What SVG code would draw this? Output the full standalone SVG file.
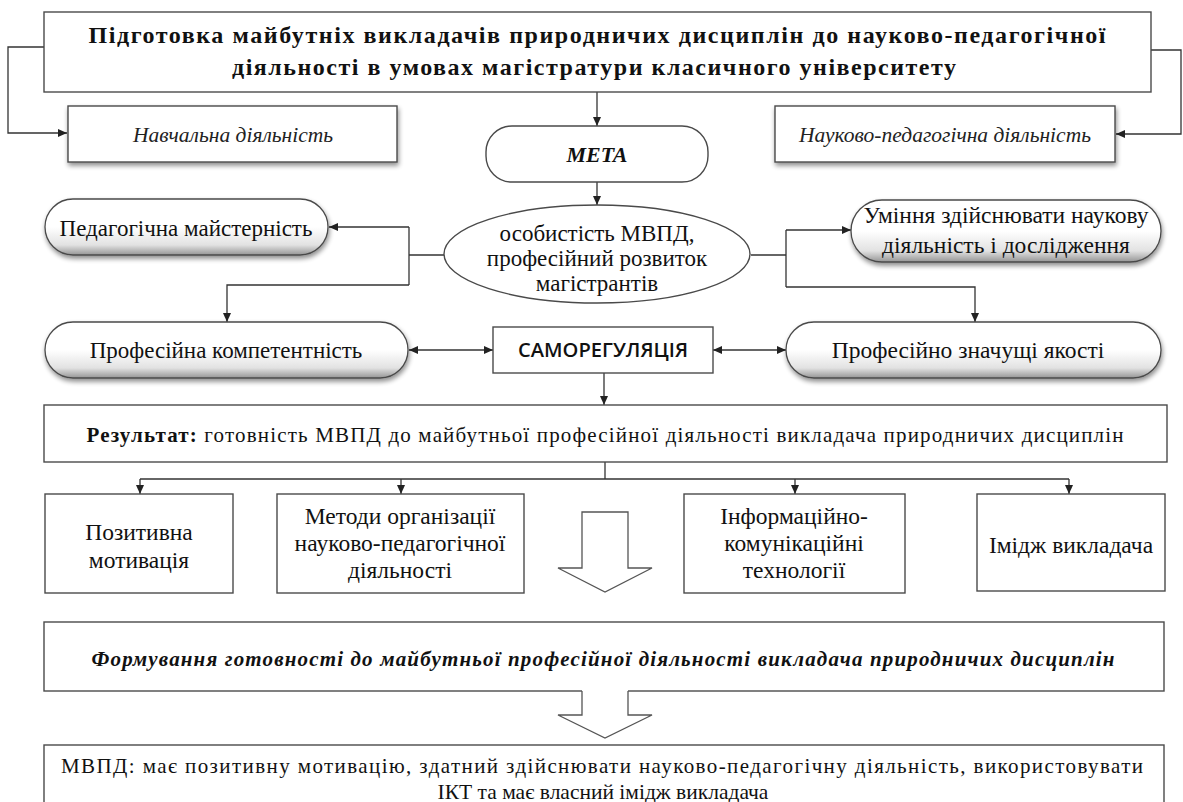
<svg xmlns="http://www.w3.org/2000/svg" width="1183" height="802" viewBox="0 0 1183 802">
<defs>
<style>
.box{fill:#fff;stroke:#4a4a4a;stroke-width:1.4}
.pill{fill:url(#pg);stroke:#4a4a4a;stroke-width:1.3}
.con{fill:none;stroke:#333;stroke-width:1.3}
text{font-family:"Liberation Serif","DejaVu Serif",serif;fill:#111;text-anchor:middle}
.tb{font-weight:bold}
.ti{font-style:italic;fill:#222}
.tbi{font-style:italic;font-weight:bold}
.ts{font-family:"Open Sans","Noto Sans","Liberation Sans",sans-serif;font-weight:600}
.blk{fill:#fff;stroke:#555;stroke-width:1.3}
</style>
<linearGradient id="pg" x1="0" y1="0" x2="0" y2="1">
<stop offset="0" stop-color="#ffffff"/>
<stop offset="0.5" stop-color="#ffffff"/>
<stop offset="0.82" stop-color="#e2e2e2"/>
<stop offset="1" stop-color="#959595"/>
</linearGradient>
<filter id="sh" x="-10%" y="-20%" width="125%" height="170%">
<feGaussianBlur in="SourceAlpha" stdDeviation="2.5"/>
<feOffset dx="1" dy="3" result="o"/>
<feComponentTransfer><feFuncA type="linear" slope="0.45"/></feComponentTransfer>
<feMerge><feMergeNode/><feMergeNode in="SourceGraphic"/></feMerge>
</filter>
<marker id="ar" markerUnits="userSpaceOnUse" markerWidth="9" markerHeight="8" refX="9" refY="4" orient="auto-start-reverse">
<path d="M0,0 L9,4 L0,8 z" fill="#222"/>
</marker>
</defs>
<rect width="1183" height="802" fill="#fff"/>

<g id="connectors">
<path class="con" d="M44,47 H8 V133 H67" marker-end="url(#ar)"/>
<path class="con" d="M1151,50 H1181 V134 H1116" marker-end="url(#ar)"/>
<path class="con" d="M597,92 V126" marker-end="url(#ar)"/>
<path class="con" d="M597,182 V205" marker-end="url(#ar)"/>
<path class="con" d="M444,255 H409"/>
<path class="con" d="M409,227 V285"/>
<path class="con" d="M409,227 H329" marker-end="url(#ar)"/>
<path class="con" d="M409,285 H227 V322" marker-end="url(#ar)"/>
<path class="con" d="M751,255 H786"/>
<path class="con" d="M786,230 V287"/>
<path class="con" d="M786,230 H851" marker-end="url(#ar)"/>
<path class="con" d="M786,287 H975 V322" marker-end="url(#ar)"/>
<path class="con" d="M409,350 H493" marker-start="url(#ar)" marker-end="url(#ar)"/>
<path class="con" d="M713,350 H786" marker-start="url(#ar)" marker-end="url(#ar)"/>
<path class="con" d="M604,373 V405" marker-end="url(#ar)"/>
<path class="con" d="M605,462 V479"/>
<path class="con" d="M140,479 H1069"/>
<path class="con" d="M140,479 V494" marker-end="url(#ar)"/>
<path class="con" d="M401,479 V494" marker-end="url(#ar)"/>
<path class="con" d="M795,479 V494" marker-end="url(#ar)"/>
<path class="con" d="M1069,479 V494" marker-end="url(#ar)"/>
</g>

<g id="title">
<rect class="box" x="44" y="12" width="1107" height="80"/>
<text class="tb" x="597" y="43" font-size="24" textLength="1017" lengthAdjust="spacing">Підготовка майбутніх викладачів природничих дисциплін до науково-педагогічної</text>
<text class="tb" x="594" y="75" font-size="24" textLength="724" lengthAdjust="spacing">діяльності в умовах магістратури класичного університету</text>
</g>

<g id="navch">
<rect class="box" x="68" y="106" width="329" height="56" filter="url(#sh)"/>
<text class="ti" x="233" y="142" font-size="21.5">Навчальна діяльність</text>
</g>

<g id="nauk">
<rect class="box" x="775" y="106" width="340" height="56" filter="url(#sh)"/>
<text class="ti" x="945" y="142" font-size="21.5">Науково-педагогічна діяльність</text>
</g>

<g id="meta">
<rect class="box" x="486" y="126" width="222" height="56" rx="26" ry="26"/>
<text class="tbi" x="597" y="162" font-size="22">МЕТА</text>
</g>

<g id="ellipse">
<ellipse class="box" cx="597" cy="254" rx="153" ry="49"/>
<text x="597" y="241" font-size="23">особистість МВПД,</text>
<text x="597" y="266" font-size="23">професійний розвиток</text>
<text x="597" y="291" font-size="23">магістрантів</text>
</g>

<g id="ped">
<rect class="pill" x="45" y="199" width="283" height="56" rx="28" ry="28" filter="url(#sh)"/>
<text x="186" y="236" font-size="23">Педагогічна майстерність</text>
</g>

<g id="umin">
<rect class="pill" x="851" y="200" width="310" height="62" rx="31" ry="31" filter="url(#sh)"/>
<text x="1006" y="223" font-size="23.5">Уміння здійснювати наукову</text>
<text x="1006" y="253" font-size="23.5">діяльність і дослідження</text>
</g>

<g id="profcomp">
<rect class="pill" x="45" y="322" width="363" height="56" rx="28" ry="28" filter="url(#sh)"/>
<text x="226" y="358" font-size="23">Професійна компетентність</text>
</g>

<g id="samoreg">
<rect class="box" x="493" y="327" width="220" height="46"/>
<text class="ts" x="603" y="357" font-size="19" textLength="170" lengthAdjust="spacingAndGlyphs">САМОРЕГУЛЯЦІЯ</text>
</g>

<g id="profznach">
<rect class="pill" x="786" y="322" width="375" height="56" rx="28" ry="28" filter="url(#sh)"/>
<text x="968" y="358" font-size="23.5">Професійно значущі якості</text>
</g>

<g id="result">
<rect class="box" x="44" y="405" width="1123" height="57"/>
<text x="605" y="442" font-size="21" textLength="1037" lengthAdjust="spacing"><tspan font-weight="bold">Результат:</tspan> готовність МВПД до майбутньої професійної діяльності викладача природничих дисциплін</text>
</g>

<g id="pozyt">
<rect class="box" x="45" y="494" width="188" height="99"/>
<text x="139" y="540" font-size="23.5">Позитивна</text>
<text x="139" y="568" font-size="23.5">мотивація</text>
</g>

<g id="metody">
<rect class="box" x="277" y="494" width="247" height="99"/>
<text x="400" y="524" font-size="23.5">Методи організації</text>
<text x="400" y="551" font-size="23.5">науково-педагогічної</text>
<text x="400" y="578" font-size="23.5">діяльності</text>
</g>

<g id="arrow1">
<path class="blk" d="M582,512 H628 V568 H652 L605,592 L558,568 H582 Z"/>
</g>

<g id="ikt">
<rect class="box" x="684" y="494" width="221" height="99"/>
<text x="794" y="524" font-size="23.5">Інформаційно-</text>
<text x="794" y="551" font-size="23.5">комунікаційні</text>
<text x="794" y="578" font-size="23.5">технології</text>
</g>

<g id="imidzh">
<rect class="box" x="977" y="494" width="188" height="97"/>
<text x="1071" y="553" font-size="23.5">Імідж викладача</text>
</g>

<g id="formuv">
<rect class="box" x="44" y="622" width="1120" height="69"/>
<text class="tbi" x="603" y="666" font-size="21" textLength="1023" lengthAdjust="spacing">Формування готовності до майбутньої професійної діяльності викладача природничих дисциплін</text>
</g>

<g id="arrow2">
<path d="M582,689 H628 V715 H652 L605,738 L558,715 H582 Z" fill="#fff"/>
<path class="blk" d="M582,691 V715 H558 L605,738 L652,715 H628 V691" style="fill:none"/>
</g>

<g id="mvpd">
<rect class="box" x="44" y="745" width="1120" height="70"/>
<text x="602" y="773" font-size="21" textLength="1082" lengthAdjust="spacing">МВПД:  має позитивну мотивацію, здатний здійснювати науково-педагогічну діяльність, використовувати</text>
<text x="603" y="799" font-size="21.5">ІКТ та має власний імідж викладача</text>
</g>
</svg>
